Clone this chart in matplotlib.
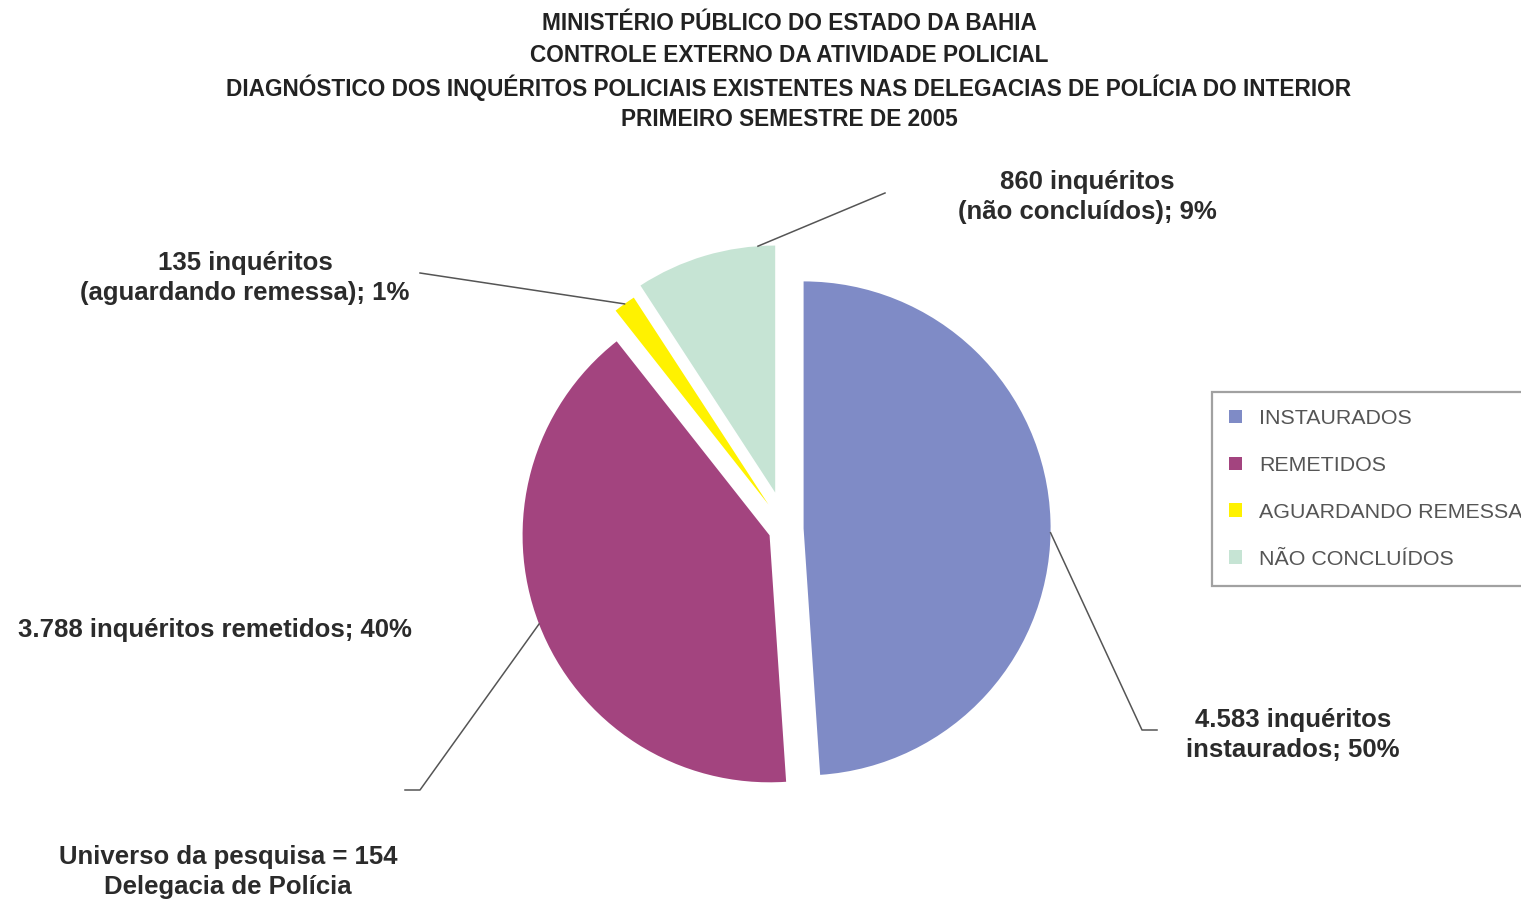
import matplotlib.pyplot as plt
from matplotlib import font_manager
import numpy as np

W, H = 1521, 901

# dados do diagnóstico (1º semestre de 2005)
categorias = ["INSTAURADOS", "REMETIDOS", "AGUARDANDO REMESSA", "NÃO CONCLUÍDOS"]
inqueritos = [4583, 3788, 135, 860]
rotulos = [
    "4.583 inquéritos\ninstaurados; 50%",
    "3.788 inquéritos remetidos; 40%",
    "135 inquéritos\n(aguardando remessa); 1%",
    "860 inquéritos\n(não concluídos); 9%",
]
cores = ["#7f8bc6", "#a3447f", "#fff200", "#c6e4d4"]
titulo = [
    "MINISTÉRIO PÚBLICO DO ESTADO DA BAHIA",
    "CONTROLE EXTERNO DA ATIVIDADE POLICIAL",
    "DIAGNÓSTICO DOS INQUÉRITOS POLICIAIS EXISTENTES NAS DELEGACIAS DE POLÍCIA DO INTERIOR",
    "PRIMEIRO SEMESTRE DE 2005",
]
rodape = "Universo da pesquisa = 154\nDelegacia de Polícia"


def px(x, y):
    # coordenadas em pixels, origem no canto superior esquerdo
    return x, H - y


names = {f.name for f in font_manager.fontManager.ttflist}
narrow = "Liberation Sans Narrow" if "Liberation Sans Narrow" in names else "Liberation Sans"
tam_titulo = 18.3 if narrow == "Liberation Sans Narrow" else 16.3

fig = plt.figure(figsize=(W / 100, H / 100), dpi=100)
ax = fig.add_axes([0, 0, 1, 1])

# deslocamento de cada fatia (em pixels)
afastamento = [17.6, 17.6, 30, 38]
wedges, _ = ax.pie(inqueritos, colors=cores, startangle=90, counterclock=False,
                   center=px(786, 529), radius=247, explode=afastamento,
                   wedgeprops=dict(linewidth=0))
ax.set_xlim(0, W)
ax.set_ylim(0, H)
ax.set_aspect("equal")
ax.axis("off")

# linhas de chamada: ângulo de saída na borda da fatia e pontos até o rótulo
saidas = [-1, None, None, 94]
caminhos = [
    [(1142, 730), (1157, 730)],
    [(420, 790), (405, 790)],
    [(420, 273)],
    [(885, 193)],
]
for w, ang, pts in zip(wedges, saidas, caminhos):
    a = np.radians(ang if ang is not None else (w.theta1 + w.theta2) / 2)
    cx, cy = w.center
    xs = [cx + w.r * np.cos(a)] + [p[0] for p in pts]
    ys = [cy + w.r * np.sin(a)] + [H - p[1] for p in pts]
    ax.plot(xs, ys, color="#555555", lw=1.1)

estilo = dict(fontsize=18.5, fontweight="bold", color="#2b2b2b",
              family="Liberation Sans", linespacing=1.27)
ax.text(*px(1293, 735), rotulos[0], ha="center", va="center", **estilo)
ax.text(*px(18, 630), rotulos[1], ha="left", va="center", **estilo)
ax.text(*px(245, 278), rotulos[2], ha="center", va="center", **estilo)
ax.text(*px(1087, 197), rotulos[3], ha="center", va="center", **estilo)
ax.text(*px(228, 872), rodape, ha="center", va="center", **estilo)

for i, linha in enumerate(titulo):
    ax.text(*px(789, 24 + i * 31.7), linha, ha="center", va="center",
            fontsize=tam_titulo, fontweight="bold", family=narrow, color="#222222")

leg = ax.legend(wedges, categorias, loc="upper left",
                bbox_to_anchor=(1212 / W, 1 - 392 / H), bbox_transform=fig.transFigure,
                borderaxespad=0, frameon=True, fancybox=False,
                handlelength=0.6, handleheight=0.6, handletextpad=0.8,
                labelspacing=1.3, borderpad=0.8,
                prop=dict(family="Liberation Sans", size=15.4))
leg.get_frame().set_edgecolor("#8a8a8a")
leg.get_frame().set_linewidth(1.6)
for t in leg.get_texts():
    t.set_color("#555555")

fig.savefig("out.png", dpi=100)
